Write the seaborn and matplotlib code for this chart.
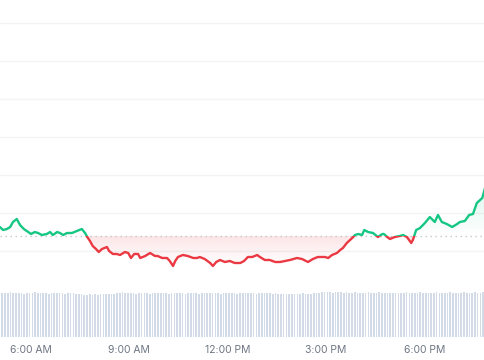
import numpy as np
import pandas as pd
import matplotlib
matplotlib.use("Agg")
import matplotlib.pyplot as plt
from matplotlib.path import Path
import seaborn as sns

# ---------------- data ----------------
times = ["05:03","05:09","05:16","05:22","05:27","05:34","05:40","05:47","05:55","06:00",
         "06:07","06:13","06:20","06:29","06:35","06:40","06:48","06:53","06:59","07:06",
         "07:15","07:24","07:33","07:39","07:43","07:48","07:53","07:59","08:04","08:10",
         "08:19","08:23","08:30","08:37","08:43","08:52","08:58","09:03","09:09","09:16",
         "09:20","09:29","09:38","09:47","09:52","10:00","10:09","10:14","10:20","10:24",
         "10:29","10:38","10:47","10:57","11:04","11:09","11:18","11:28","11:33","11:39",
         "11:46","11:55","12:04","12:13","12:23","12:30","12:37","12:45","12:54","12:59",
         "13:08","13:17","13:27","13:36","13:45","13:54","14:07","14:16","14:27","14:36",
         "14:45","14:58","15:04","15:11","15:20","15:26","15:31","15:38","15:48","15:53",
         "15:59","16:06","16:10","16:17","16:26","16:35","16:43","16:46","16:52","16:57",
         "17:06","17:15","17:21","17:28","17:36","17:39","17:45","17:52","18:01","18:10",
         "18:19","18:25","18:32","18:41","18:51","19:00","19:05","19:14","19:22","19:29",
         "19:36","19:46","19:51"]
prices = [73, 70, 71, 73, 78, 81, 75, 71, 68, 66,
          68, 67, 65, 66, 68, 65, 68, 67, 65, 67,
          67, 69, 71, 67, 63, 59, 54, 51, 48, 51,
          53, 49, 46, 46, 45, 48, 47, 42, 46, 46,
          42, 44, 47, 44, 44, 42, 42, 39, 34, 39,
          43, 45, 44, 42, 42, 43, 41, 37, 34, 38,
          40, 38, 39, 37, 37, 39, 43, 43, 45, 43,
          40, 40, 38, 38, 39, 40, 42, 41, 38, 41,
          43, 43, 42, 45, 47, 50, 52, 57, 62, 65,
          66, 65, 70, 68, 67, 63, 66, 66, 63, 61,
          63, 64, 65, 63, 57, 60, 70, 72, 77, 83,
          78, 85, 78, 76, 73, 76, 78, 79, 85, 86,
          97, 102, 112]
open_price = 64
grid_levels = [48.8, 86.9, 125.0, 163.1, 201.2, 239.3, 277.4]

# 5-minute volume bars starting 05:00
vol_start = "05:00"
volumes = [44, 44, 44, 44, 45, 44, 44, 44, 44, 43, 44, 44, 44, 45, 44, 44, 44, 44, 43, 44,
           44, 44, 44, 44, 43, 44, 44, 44, 43, 43, 43, 42, 42, 43, 42, 43, 42, 43, 43, 43,
           43, 43, 43, 44, 44, 45, 44, 44, 44, 44, 43, 44, 44, 44, 44, 43, 44, 44, 44, 44,
           44, 44, 43, 44, 44, 44, 44, 44, 43, 44, 44, 44, 44, 43, 44, 44, 44, 44, 44, 44,
           44, 43, 44, 44, 44, 44, 44, 43, 44, 44, 44, 44, 44, 44, 43, 44, 44, 44, 44, 44,
           43, 44, 43, 43, 43, 43, 43, 43, 43, 43, 43, 44, 43, 43, 43, 44, 44, 44, 45, 45,
           45, 45, 44, 45, 45, 45, 44, 45, 44, 44, 45, 44, 44, 44, 44, 45, 44, 44, 44, 45,
           44, 44, 44, 44, 44, 44, 44, 44, 44, 45, 44, 44, 44, 44, 45, 44, 44, 44, 44, 44,
           45, 44, 44, 44, 44, 45, 44, 44, 44, 44, 45, 44, 44, 44, 45, 44, 44, 45, 44, 45]

tick_minutes = [360, 540, 720, 900, 1080]
tick_labels = ["6:00 AM", "9:00 AM", "12:00 PM", "3:00 PM", "6:00 PM"]

GREEN = "#16c784"
RED = "#ea3943"

# ---------------- prep ----------------
def to_min(s):
    h, m = s.split(":")
    return int(h) * 60 + int(m)

df = pd.DataFrame({"t": [to_min(s) for s in times], "price": prices})
x = df["t"].to_numpy(dtype=float)
y = df["price"].to_numpy(dtype=float)
vx = to_min(vol_start) + 2.5 + 5 * np.arange(len(volumes))

sns.set_theme(style="white")
plt.rcParams["font.family"] = ["Inter", "DejaVu Sans"]

fig = plt.figure(figsize=(4.85, 3.6), dpi=100)
ax = fig.add_axes([0, 23 / 360, 1, 337 / 360])

XMIN, XMAX = 303.3, 1191.0
YMIN, YMAX = -37, 300

# volume axis
ax2 = ax.twinx()
ax2.bar(vx, volumes, width=3.0, color="#d3dae8", linewidth=0, zorder=1)
ax2.set_ylim(0, 337)
ax2.set_yticks([])
ax2.patch.set_visible(False)
for s in ax2.spines.values():
    s.set_visible(False)
ax.set_zorder(ax2.get_zorder() + 1)
ax.patch.set_visible(False)

# gradient fills
def gradient_fill(mask_cond, y_lo, y_hi, a_lo, a_hi, color):
    coll = ax.fill_between(x, y, open_price, where=mask_cond, interpolate=True,
                           facecolor="none", edgecolor="none")
    paths = coll.get_paths()
    coll.remove()
    if not paths:
        return
    comp = Path.make_compound_path(*paths)
    rgb = matplotlib.colors.to_rgb(color)
    n = 256
    alphas = np.linspace(a_lo, a_hi, n)
    img = np.zeros((n, 1, 4))
    img[:, 0, :3] = rgb
    img[:, 0, 3] = alphas
    im = ax.imshow(img, extent=[XMIN, XMAX, y_lo, y_hi], origin="lower",
                   aspect="auto", zorder=2, interpolation="bilinear")
    im.set_clip_path(comp, ax.transData)

gradient_fill(y >= open_price, open_price, y.max(), 0.0, 0.14, GREEN)
gradient_fill(y <= open_price, y.min(), open_price, 0.0, 0.13, RED)

# line, split by baseline using clipping
sns.lineplot(data=df, x="t", y="price", ax=ax, color=GREEN, linewidth=1.7, zorder=4)
sns.lineplot(data=df, x="t", y="price", ax=ax, color=RED, linewidth=1.7, zorder=4)
lines = ax.get_lines()
from matplotlib.patches import Rectangle
up = Rectangle((XMIN - 50, open_price), XMAX - XMIN + 100, 1000, transform=ax.transData)
dn = Rectangle((XMIN - 50, open_price - 1000), XMAX - XMIN + 100, 1000, transform=ax.transData)
lines[0].set_clip_path(up)
lines[1].set_clip_path(dn)
for ln in lines[:2]:
    ln.set_solid_capstyle("round")
    ln.set_solid_joinstyle("round")

# baseline
ax.axhline(open_price, color="#c3c7ce", linewidth=1.0, linestyle=(0, (1, 2.6)), zorder=3)

ax.set_xlim(XMIN, XMAX)
ax.set_ylim(YMIN, YMAX)
ax.set_yticks(grid_levels)
ax.set_yticklabels([])
ax.grid(axis="y", color="#f2f3f4", linewidth=1.0)
ax.grid(axis="x", visible=False)
ax.set_xticks(tick_minutes)
ax.set_xticklabels(tick_labels)
ax.tick_params(axis="x", length=0, pad=6, labelsize=7.5, labelcolor="#6f7785")
ax.tick_params(axis="y", length=0)
ax.set_xlabel("")
ax.set_ylabel("")
for s in ax.spines.values():
    s.set_visible(False)

fig.savefig("out.png", dpi=100, facecolor="white")
